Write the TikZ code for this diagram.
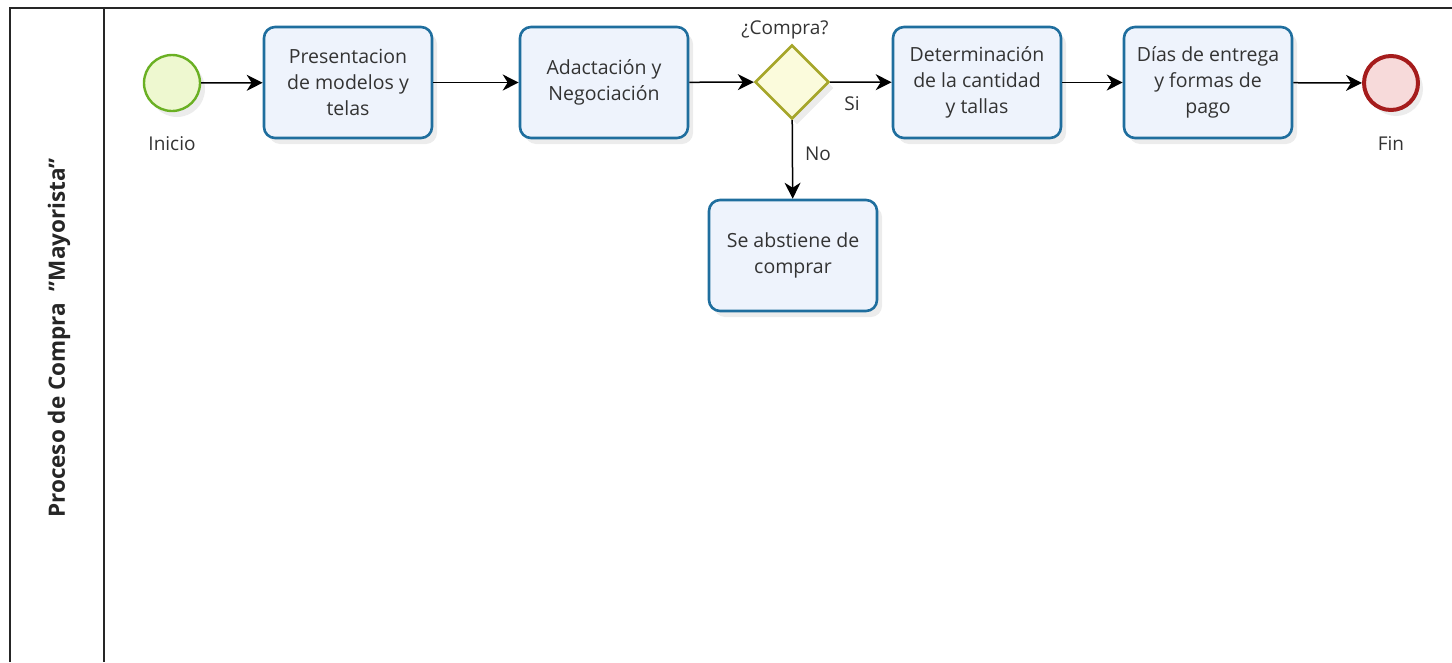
\documentclass[tikz,border=0pt]{standalone}
\usepackage{fontspec}
\setmainfont{Open Sans}
\usetikzlibrary{arrows.meta,shapes.geometric,shadows}
\definecolor{taskborder}{HTML}{1F6E9E}
\definecolor{taskfill}{HTML}{EEF3FC}
\definecolor{startborder}{HTML}{6AB023}
\definecolor{startfill}{HTML}{EEF8D0}
\definecolor{endborder}{HTML}{A51C1C}
\definecolor{endfill}{HTML}{F7DADA}
\definecolor{gwborder}{HTML}{A6A62A}
\definecolor{gwfill}{HTML}{FBFBDC}
\tikzset{
  taskbox/.style={draw=taskborder, line width=2.6pt, fill=taskfill, rounded corners=11pt,
    minimum width=168pt, minimum height=111pt, align=center, inner sep=0pt,
    font=\fontsize{19.5}{26}\selectfont, text=black!80,
    drop shadow={shadow xshift=5pt, shadow yshift=-6pt, opacity=0.15}},
  startev/.style={circle, draw=startborder, line width=2.4pt, fill=startfill, minimum size=56pt, inner sep=0pt,
    drop shadow={shadow xshift=5pt, shadow yshift=-6pt, opacity=0.15}},
  endev/.style={circle, draw=endborder, line width=4pt, fill=endfill, minimum size=54pt, inner sep=0pt,
    drop shadow={shadow xshift=5pt, shadow yshift=-6pt, opacity=0.15}},
  gateway/.style={diamond, draw=gwborder, line width=2.6pt, fill=gwfill, minimum width=74pt, minimum height=74pt, inner sep=0pt, aspect=1,
    drop shadow={shadow xshift=5pt, shadow yshift=-6pt, opacity=0.15}},
  lbl/.style={font=\fontsize{19}{22}\selectfont, text=black!80, inner sep=0pt},
  flow/.style={line width=1.5pt, -{Stealth[length=16pt,width=16pt,inset=5pt]}},
  pool/.style={line width=2pt, draw=black!85}
}
\begin{document}
\begin{tikzpicture}[x=1pt,y=-1pt]
\useasboundingbox (0,0) rectangle (1452,662);
% pool
\draw[pool] (10,662) -- (10,8) -- (1452,8);
\draw[pool] (104,8) -- (104,662);
\node[rotate=90, font=\bfseries\fontsize{22.5}{24}\selectfont, text=black!85] (lane) at (59,338) {Proceso de Compra \ "Mayorista"};
% nodes
\node[startev] (start) at (172,83) {};
\node[lbl] (startl) at (172,144) {Inicio};
\node[taskbox] (t1) at (348,82.5) {Presentacion\\de modelos y\\telas};
\node[taskbox] (t2) at (604,82.5) {Adactación y\\Negociación};
\node[gateway] (gw) at (792,82) {};
\node[lbl] (gwl) at (785,30) {¿Compra?};
\node[taskbox] (t3) at (977,82.5) {Determinación\\de la cantidad\\y tallas};
\node[taskbox] (t4) at (1208,82.5) {Días de entrega\\y formas de\\pago};
\node[endev] (end) at (1391,83) {};
\node[lbl] (endl) at (1391,144) {Fin};
\node[taskbox] (t5) at (793,255.5) {Se abstiene de\\comprar};
% flows
\draw[flow] (start) -- (t1);
\draw[flow] (t1) -- (t2);
\draw[flow] (t2) -- (gw);
\draw[flow] (gw) -- (t3);
\node[lbl] (si) at (852,104) {Si};
\draw[flow] (gw) -- (t5);
\node[lbl] (no) at (818,154) {No};
\draw[flow] (t3) -- (t4);
\draw[flow] (t4) -- (end);
\end{tikzpicture}
\end{document}
